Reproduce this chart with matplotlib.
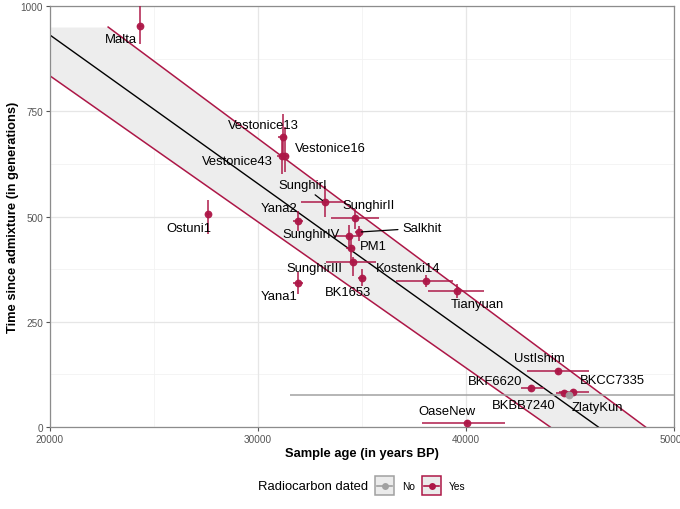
import numpy as np
import matplotlib
matplotlib.use("Agg")
import matplotlib.pyplot as plt
from matplotlib.patches import Rectangle
from matplotlib.lines import Line2D

plt.rcParams['font.family'] = ['Liberation Sans', 'DejaVu Sans']

# ---------------- data ----------------
samples = ["Malta", "Ostuni1", "Vestonice13", "Vestonice16", "Vestonice43",
           "SunghirI", "SunghirII", "Salkhit", "SunghirIV", "PM1", "SunghirIII",
           "BK1653", "Yana2", "Yana1", "Kostenki14", "Tianyuan", "UstIshim",
           "BKF6620", "BKBB7240", "BKCC7335", "ZlatyKun", "OaseNew"]
age = [24337, 27614, 31181, 31277, 31133,
       33205, 34651, 34843, 34361, 34458, 34554,
       34988, 31904, 31904, 38072, 39566, 44434,
       43133, 44723, 45157, 44964, 40048]
age_lo = [24190, 27500, 30950, 31040, 30900,
          32048, 33494, 34650, 33639, 34240, 33253,
          34800, 31660, 31660, 36627, 38169, 42940,
          42651, 44330, 44482, 31518, 37880]
age_hi = [24480, 27720, 31410, 31510, 31370,
          34217, 35807, 35040, 34940, 34680, 35663,
          35180, 32150, 32150, 39373, 40867, 45928,
          43759, 45100, 45928, 58400, 41880]
gens = [952, 506, 689, 644, 644,
        534, 496, 463, 454, 425, 392,
        354, 489, 342, 347, 323, 133,
        93, 81, 83, 76, 10]
gens_lo = [910, 458, 640, 606, 600,
           499, 470, 442, 430, 395, 359,
           335, 465, 316, 333, 306, 125,
           86, 74, 76, 70, 4]
gens_hi = [1050, 539, 743, 713, 690,
           572, 518, 477, 480, 455, 404,
           375, 513, 368, 361, 340, 141,
           100, 88, 90, 82, 16]
radiocarbon = ["Yes"] * 20 + ["No", "Yes"]

fit_x = [20000, 46361]
fit_y = [931, 0]
upper_x = [22795, 48631]
upper_y = [950, 0]
lower_x = [20000, 44048]
lower_y = [834, 0]

x_ticks = [20000, 30000, 40000, 50000]
y_ticks = [0, 250, 500, 750, 1000]

# label offsets in pixels (dx, dy)
label_off = {
    "Malta": (-19, -13), "Vestonice13": (-19, 12), "Vestonice16": (46, 8),
    "Vestonice43": (-44, -5), "SunghirI": (-22, 17), "SunghirII": (14, 13),
    "Salkhit": (63, 4), "SunghirIV": (-38, 2), "PM1": (23, 2),
    "SunghirIII": (-38, -6), "Kostenki14": (-18, 13), "BK1653": (-14, -14),
    "Yana2": (-19, 13), "Yana1": (-19, -13), "Ostuni1": (-19, -14),
    "Tianyuan": (20, -13), "UstIshim": (-19, 13), "BKF6620": (-36, 7),
    "BKCC7335": (39, 12), "BKBB7240": (-41, -12), "ZlatyKun": (28, -12),
    "OaseNew": (-20, 12),
}
segment_labels = {"SunghirI", "Salkhit"}

RED = "#AD1747"
GREY = "#A0A0A0"
colors = {"Yes": RED, "No": GREY}

# ---------------- figure ----------------
W, H = 680, 510
fig = plt.figure(figsize=(W / 100, H / 100), dpi=100)
ax = fig.add_axes([50 / W, 1 - 428 / H, (674 - 50) / W, (428 - 7) / H])
ax.set_xlim(20000, 50000)
ax.set_ylim(0, 1000)

# grid
for xv in [25000, 35000, 45000]:
    ax.axvline(xv, color="#F2F2F2", lw=0.6, zorder=0)
for yv in [125, 375, 625, 875]:
    ax.axhline(yv, color="#F2F2F2", lw=0.6, zorder=0)
for xv in x_ticks:
    ax.axvline(xv, color="#E6E6E6", lw=0.9, zorder=0)
for yv in y_ticks:
    ax.axhline(yv, color="#E6E6E6", lw=0.9, zorder=0)

# ribbon
xs = np.linspace(20000, 50000, 601)
up = np.interp(xs, upper_x, upper_y)
lo = np.interp(xs, lower_x, lower_y)
ax.fill_between(xs, lo, up, color="#EDEDED", lw=0, zorder=1)
ax.plot(upper_x, upper_y, color=RED, lw=1.1, zorder=2)
ax.plot(lower_x, lower_y, color=RED, lw=1.1, zorder=2)
ax.plot(fit_x, fit_y, color="black", lw=1.0, zorder=2)

# points with error bars
for i, name in enumerate(samples):
    c = colors[radiocarbon[i]]
    ax.plot([age_lo[i], age_hi[i]], [gens[i], gens[i]], color=c, lw=1.2,
            zorder=3, solid_capstyle="butt", alpha=0.9)
    ax.plot([age[i], age[i]], [gens_lo[i], gens_hi[i]], color=c, lw=1.2,
            zorder=3, solid_capstyle="butt", alpha=0.9)
    ax.plot(age[i], gens[i], "o", color=c, ms=5.6, mew=0, zorder=4, alpha=0.95)

# labels
for i, name in enumerate(samples):
    dx, dy = label_off[name]
    if name in segment_labels:
        ax.annotate(name, (age[i], gens[i]), xytext=(dx, dy),
                    textcoords="offset pixels", ha="center", va="center",
                    fontsize=9.4, color="black", zorder=6,
                    arrowprops=dict(arrowstyle="-", color="black", lw=0.9,
                                    shrinkA=1, shrinkB=2))
    else:
        ax.annotate(name, (age[i], gens[i]), xytext=(dx, dy),
                    textcoords="offset pixels", ha="center", va="center",
                    fontsize=9.4, color="black", zorder=6)

# axes styling
for s in ax.spines.values():
    s.set_color("#8C8C8C")
    s.set_linewidth(0.9)
ax.set_xticks(x_ticks)
ax.set_yticks(y_ticks)
ax.set_xticklabels([str(v) for v in x_ticks])
ax.set_yticklabels([str(v) for v in y_ticks])
ax.tick_params(axis="both", colors="#555555", labelcolor="#555555",
               labelsize=7.2, length=3, width=0.8, pad=2)
ax.set_xlabel("Sample age (in years BP)", fontsize=9.3, fontweight="bold",
              labelpad=2)
ax.set_ylabel("Time since admixture (in generations)", fontsize=9.3,
              fontweight="bold", labelpad=1)

# legend (drawn manually in figure pixel coordinates)
def fx(px):
    return px / W

def fy(py):
    return 1 - py / H

fig.text(fx(258), fy(487), "Radiocarbon dated", fontsize=9.4, va="center",
         ha="left")
for (bx, lab, c) in [(375, "No", GREY), (422, "Yes", RED)]:
    fig.add_artist(Rectangle((fx(bx), fy(496)), fx(19), 19 / H,
                             transform=fig.transFigure, facecolor="#EBEBEB",
                             edgecolor=c, lw=1.1))
    fig.add_artist(Line2D([fx(bx + 2), fx(bx + 17)], [fy(486.5)] * 2,
                          transform=fig.transFigure, color=c, lw=1.2))
    fig.add_artist(Line2D([fx(bx + 9.5)], [fy(486.5)], marker="o", ms=5,
                          mew=0, transform=fig.transFigure, color=c))
    fig.text(fx(bx + 27), fy(487), lab, fontsize=7.3, va="center", ha="left")

fig.savefig("out.png", dpi=100)
